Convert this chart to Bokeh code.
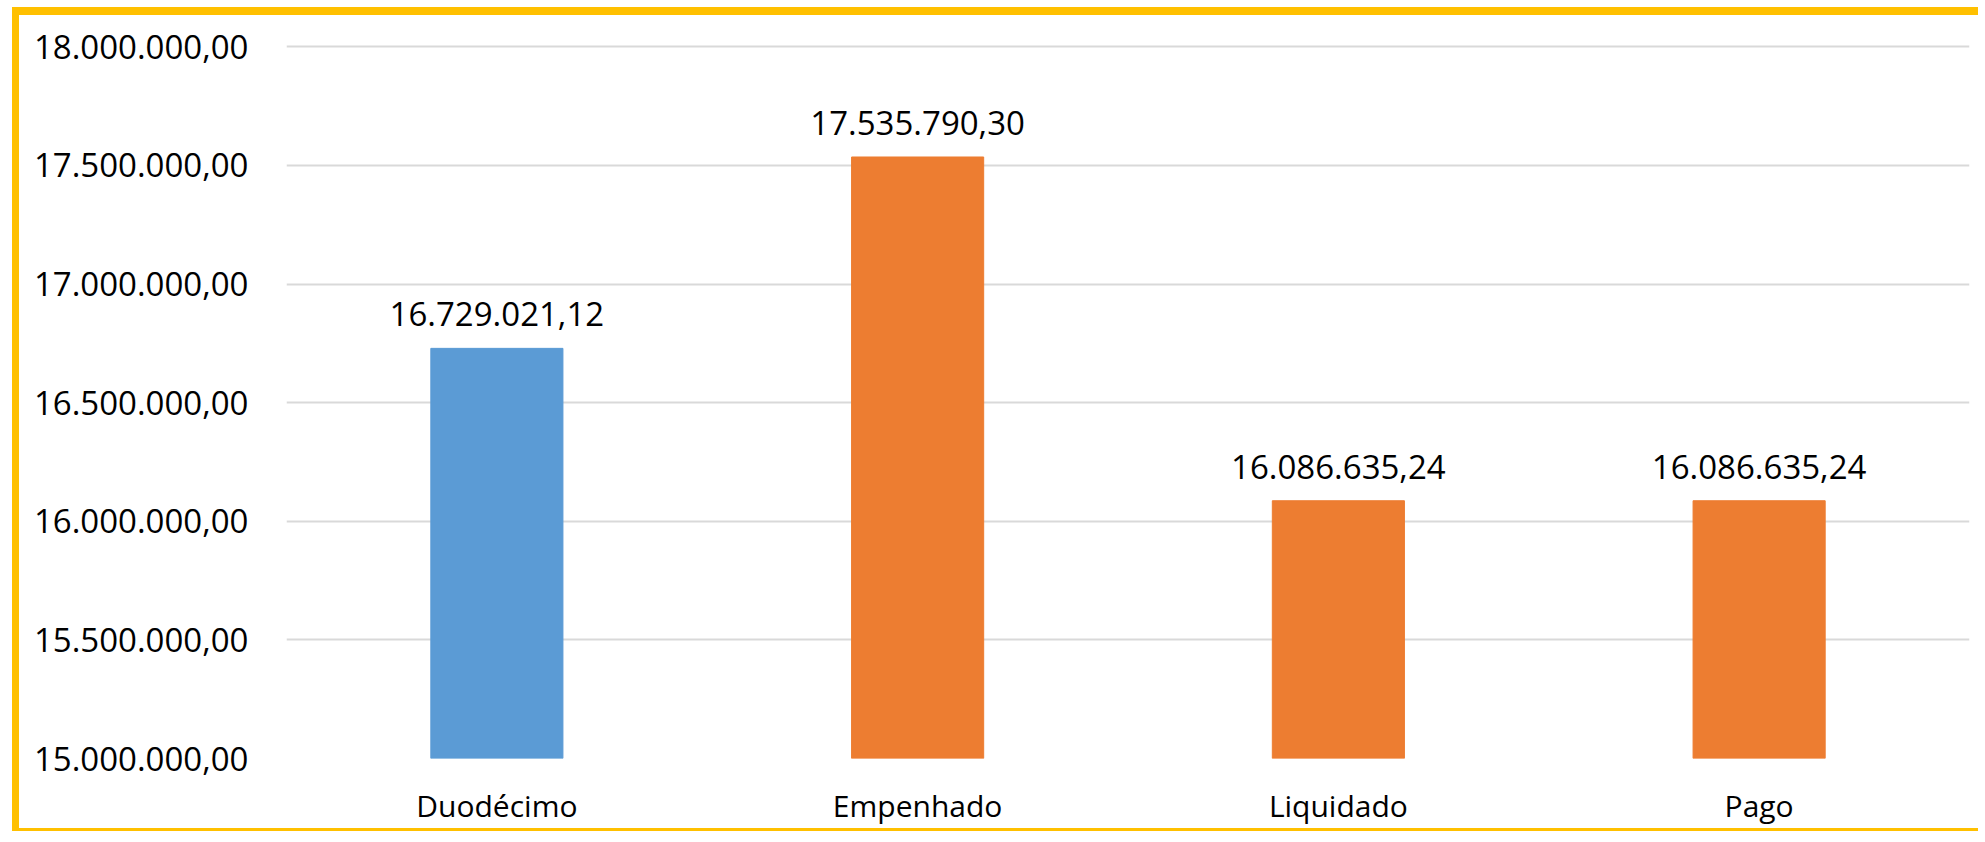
from bokeh.plotting import figure
from bokeh.models import (ColumnDataSource, FactorRange, Range1d, FixedTicker,
                          CustomJSTickFormatter, LabelSet)
from bokeh.core.properties import value
from bokeh.embed import file_html
from bokeh.resources import INLINE

categories = ["Duodécimo", "Empenhado", "Liquidado", "Pago"]
values = [16729021.12, 17535790.30, 16086635.24, 16086635.24]
colors = ["#5B9BD5", "#ED7D31", "#ED7D31", "#ED7D31"]
y_ticks = [15000000, 15500000, 16000000, 16500000, 17000000, 17500000, 18000000]
y_min, y_max = 15000000, 18000000
y_pad_top = 10000  # small headroom so the top gridline is not clipped


def fmt_br(v):
    s = f"{v:,.2f}"
    return s.replace(",", "X").replace(".", ",").replace("X", ".")


labels = [fmt_br(v) for v in values]
source = ColumnDataSource(dict(cat=categories, val=values, color=colors, label=labels))

FONT = "Open Sans"
TXT = "#000000"

p = figure(x_range=FactorRange(factors=categories, range_padding=0),
           y_range=Range1d(y_min, y_max + y_pad_top),
           width=1966, height=824,
           output_backend="svg", toolbar_location=None,
           min_border_left=267, min_border_right=16,
           min_border_top=29, min_border_bottom=81)

p.styles = {"margin-left": "12px",
            "margin-top": "7px",
            "border-left": "7px solid #FFC000",
            "border-top": "8px solid #FFC000",
            "border-bottom": "3px solid #FFC000"}

p.vbar(x="cat", top="val", bottom=0, width=0.314, color="color", source=source)

p.add_layout(LabelSet(x="cat", y="val", text="label", source=source,
                      y_offset=22, text_align="center", text_baseline="alphabetic",
                      text_font=value(FONT), text_font_size="33px", text_color=TXT))

p.outline_line_color = None
p.background_fill_color = "white"
p.border_fill_color = "white"
p.xgrid.grid_line_color = None
p.ygrid.grid_line_color = "#D9D9D9"
p.ygrid.grid_line_width = 2

p.yaxis.ticker = FixedTicker(ticks=y_ticks)
p.yaxis.formatter = CustomJSTickFormatter(code="""
const s = tick.toFixed(2); const parts = s.split('.');
return parts[0].replace(/\\B(?=(\\d{3})+(?!\\d))/g, '.') + ',' + parts[1];
""")

for ax in (p.xaxis, p.yaxis):
    ax.axis_line_color = None
    ax.major_tick_line_color = None
    ax.minor_tick_line_color = None
    ax.major_tick_out = 0
    ax.major_tick_in = 0
    ax.major_label_text_font = FONT
    ax.major_label_text_color = TXT

p.yaxis.major_label_text_font_size = "33px"
p.xaxis.major_label_text_font_size = "30px"
p.yaxis.major_label_standoff = 38
p.xaxis.major_label_standoff = 26

open("out.html", "w").write(file_html(p, INLINE))
